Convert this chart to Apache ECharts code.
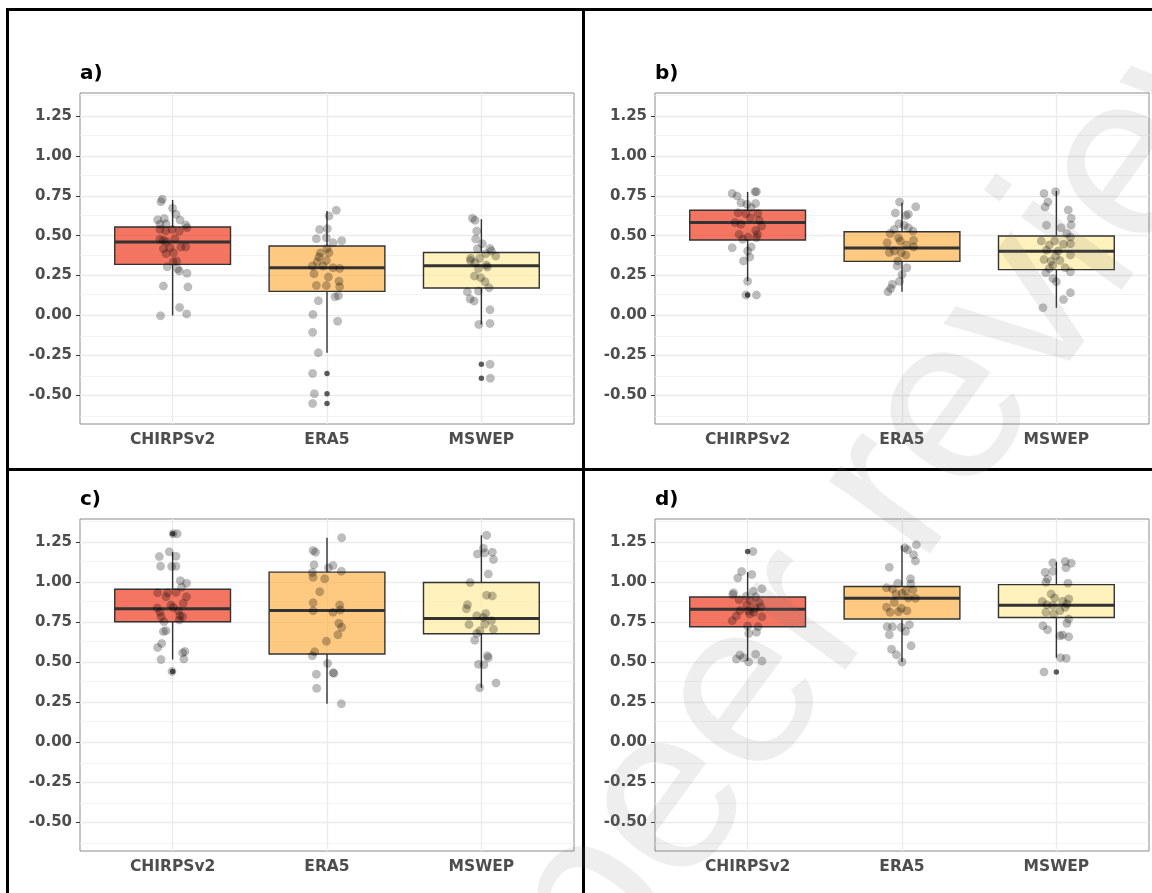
<!DOCTYPE html>
<html><head><meta charset="utf-8">
<script src="https://cdn.jsdelivr.net/npm/echarts@6/dist/echarts.min.js"></script>
<style>html,body{margin:0;padding:0;background:#fff}#chart{width:1152px;height:893px}</style>
</head><body><div id="chart"></div>
<script>
const categories = ['CHIRPSv2', 'ERA5', 'MSWEP'];
const panelLabels = ['a)', 'b)', 'c)', 'd)'];
const yTicks = [-0.5, -0.25, 0, 0.25, 0.5, 0.75, 1, 1.25];
const yMinorTicks = [-0.625, -0.375, -0.125, 0.125, 0.375, 0.625, 0.875, 1.125, 1.375];

// box stats per category: [lowerWhisker, q1, median, q3, upperWhisker]
const boxA = [[0.0, 0.320, 0.460, 0.554, 0.724], [-0.234, 0.151, 0.299, 0.435, 0.655], [-0.056, 0.172, 0.312, 0.395, 0.603]];
const boxB = [[0.215, 0.473, 0.582, 0.659, 0.774], [0.149, 0.339, 0.423, 0.525, 0.707], [0.048, 0.287, 0.402, 0.498, 0.780]];
const boxC = [[0.516, 0.752, 0.834, 0.955, 1.187], [0.240, 0.551, 0.823, 1.062, 1.277], [0.340, 0.677, 0.773, 0.997, 1.292]];
const boxD = [[0.507, 0.721, 0.830, 0.907, 1.062], [0.501, 0.769, 0.899, 0.972, 1.229], [0.528, 0.779, 0.855, 0.984, 1.124]];

// outliers: [categoryIndex, value]
const outA = [[1, -0.364], [1, -0.49], [1, -0.552], [2, -0.305], [2, -0.393]];
const outB = [[0, 0.128]];
const outC = [[0, 1.302], [0, 0.442]];
const outD = [[0, 1.191], [2, 0.438]];

// jittered observations: [jitter, value]
const ptsA_CHIRPS = [[-0.076,0.713],[-0.067,0.728],[0,0.672],[0.022,0.634],[0.048,0.598],[-0.097,0.600],[-0.054,0.607],[-0.082,0.571],[-0.043,0.575],[0.086,0.567],[0.093,0.55],[-0.082,0.54],[-0.045,0.529],[-0.004,0.538],[0.043,0.527],[-0.082,0.477],[-0.06,0.471],[-0.039,0.462],[0.015,0.481],[0.054,0.429],[0.086,0.429],[-0.06,0.418],[-0.017,0.425],[0.006,0.393],[-0.043,0.387],[0.026,0.341],[0.004,0.337],[-0.035,0.305],[0.032,0.293],[0.043,0.278],[0.093,0.264],[-0.06,0.184],[0.099,0.178],[0.045,0.05],[0.091,0.01],[-0.078,-0.002]];
const ptsA_ERA5 = [[0.06,0.659],[0.013,0.623],[-0.048,0.538],[0.002,0.544],[-0.069,0.481],[-0.004,0.487],[0.039,0.456],[0.095,0.469],[0,0.42],[-0.043,0.391],[0.013,0.393],[-0.052,0.366],[-0.004,0.345],[-0.063,0.337],[-0.095,0.31],[-0.026,0.31],[0.039,0.299],[0.082,0.295],[-0.084,0.262],[0.009,0.241],[0.078,0.215],[-0.069,0.188],[-0.004,0.188],[0.082,0.18],[0.052,0.117],[0.074,0.123],[-0.056,0.092],[-0.091,0.006],[0.069,-0.036],[-0.093,-0.105],[-0.056,-0.234],[-0.093,-0.364],[-0.082,-0.49],[-0.093,-0.552]];
const ptsA_MSWEP = [[-0.058,0.609],[-0.041,0.596],[-0.03,0.529],[-0.037,0.479],[0.006,0.45],[-0.026,0.418],[0.056,0.42],[0.065,0.404],[0.028,0.387],[0.093,0.372],[-0.069,0.358],[-0.011,0.358],[-0.071,0.345],[-0.041,0.331],[0.032,0.316],[0.039,0.303],[-0.019,0.295],[-0.045,0.247],[-0.004,0.236],[0.024,0.211],[0.05,0.174],[-0.091,0.149],[-0.019,0.153],[-0.073,0.103],[-0.047,0.09],[0.056,0.036],[-0.017,-0.056],[0.056,-0.05],[0.056,-0.305],[0.058,-0.393]];
const ptsB_CHIRPS = [[-0.1,0.764],[-0.068,0.749],[0.048,0.776],[0.057,0.776],[-0.043,0.707],[-0.005,0.697],[0.052,0.701],[0.023,0.676],[-0.062,0.644],[-0.011,0.638],[0.066,0.64],[0.018,0.613],[0.075,0.596],[-0.082,0.582],[-0.043,0.571],[0.091,0.561],[0.052,0.533],[-0.055,0.508],[0.064,0.508],[0.002,0.492],[-0.032,0.477],[0.057,0.487],[-0.1,0.425],[0.023,0.429],[0,0.404],[0.014,0.366],[-0.027,0.341],[0,0.215],[-0.011,0.128],[0.057,0.128]];
const ptsB_ERA5 = [[-0.016,0.711],[0.089,0.682],[-0.043,0.642],[0.025,0.626],[0.041,0.634],[-0.02,0.575],[0.014,0.565],[0.041,0.55],[0.071,0.529],[-0.05,0.538],[-0.077,0.513],[-0.023,0.487],[0.075,0.471],[-0.096,0.456],[-0.011,0.467],[0.03,0.441],[0.075,0.429],[-0.05,0.404],[-0.005,0.393],[-0.082,0.395],[0.025,0.379],[-0.027,0.341],[-0.032,0.31],[0.032,0.299],[0,0.257],[-0.016,0.215],[-0.062,0.195],[-0.073,0.169],[-0.091,0.149]];
const ptsB_MSWEP = [[-0.08,0.764],[-0.005,0.776],[-0.055,0.711],[-0.073,0.68],[0.077,0.661],[-0.064,0.565],[0.096,0.609],[0.096,0.567],[0.03,0.55],[0.068,0.513],[0.091,0.492],[-0.098,0.467],[-0.011,0.467],[-0.046,0.441],[0.046,0.446],[0.091,0.45],[-0.064,0.408],[0.011,0.404],[0.091,0.379],[-0.005,0.372],[-0.08,0.351],[-0.034,0.341],[0.023,0.345],[-0.023,0.314],[0.057,0.299],[0.091,0.274],[-0.046,0.295],[-0.068,0.268],[-0.023,0.232],[0,0.211],[0.091,0.142],[0.046,0.1],[-0.087,0.048]];
const ptsC_CHIRPS = [[0.003,1.302],[0.03,1.302],[-0.086,1.16],[-0.022,1.189],[0.022,1.162],[-0.078,1.099],[-0.006,1.097],[0.022,1.099],[0.05,1.009],[0.09,0.993],[0.058,0.968],[-0.097,0.934],[-0.032,0.934],[0.022,0.936],[0.09,0.909],[-0.043,0.909],[0.069,0.867],[-0.011,0.857],[-0.099,0.838],[0.004,0.842],[-0.082,0.811],[0.037,0.821],[-0.075,0.783],[0.047,0.79],[0.065,0.783],[-0.056,0.752],[0.043,0.763],[-0.043,0.696],[-0.06,0.691],[-0.071,0.616],[-0.097,0.591],[0.08,0.566],[0.065,0.558],[-0.075,0.516],[0.073,0.52],[-0.004,0.442]];
const ptsC_ERA5 = [[0.095,1.277],[-0.09,1.198],[-0.075,1.187],[-0.084,1.108],[0.009,1.089],[0.039,1.104],[0.093,1.068],[-0.095,1.06],[-0.09,1.03],[-0.015,1.02],[-0.047,0.94],[-0.09,0.871],[0.082,0.857],[-0.09,0.821],[0.086,0.825],[0.039,0.811],[0.077,0.742],[0.095,0.717],[0.071,0.671],[-0.004,0.631],[-0.08,0.564],[-0.095,0.539],[0.004,0.491],[0.039,0.434],[0.045,0.43],[-0.069,0.424],[-0.067,0.336],[0.093,0.24]];
const ptsC_MSWEP = [[0.034,1.292],[0.013,1.212],[-0.026,1.175],[0.022,1.181],[0.071,1.187],[0.078,1.141],[0.045,1.051],[-0.073,0.997],[0.034,0.917],[0.071,0.913],[-0.09,0.859],[-0.097,0.834],[0.028,0.804],[0.013,0.779],[-0.03,0.79],[0.065,0.758],[-0.08,0.735],[0.022,0.737],[0.078,0.706],[-0.009,0.696],[-0.03,0.679],[-0.043,0.637],[0.039,0.539],[0.045,0.528],[-0.019,0.486],[0.017,0.484],[0.095,0.369],[-0.011,0.34]];
const ptsD_CHIRPS = [[0.034,1.191],[-0.039,1.066],[-0.064,1.026],[0.027,1.047],[-0.091,0.934],[-0.096,0.922],[0.036,0.942],[0.093,0.959],[-0.009,0.911],[0.052,0.909],[-0.055,0.89],[0.018,0.884],[0.075,0.873],[-0.05,0.823],[-0.005,0.857],[0.048,0.836],[0.087,0.846],[0.041,0.811],[0.005,0.821],[-0.073,0.788],[-0.1,0.758],[0.093,0.783],[0.014,0.8],[0,0.725],[0.068,0.721],[0.007,0.679],[0.057,0.687],[-0.073,0.52],[-0.05,0.545],[-0.027,0.528],[0.052,0.549],[0.007,0.501],[0.093,0.507]];
const ptsD_ERA5 = [[0.093,1.233],[0.036,1.202],[0.018,1.214],[0.075,1.17],[0.087,1.131],[-0.082,1.093],[0.055,1.02],[-0.027,0.993],[0.057,0.988],[-0.1,0.964],[-0.062,0.958],[0.023,0.945],[0.071,0.951],[0,0.93],[-0.039,0.926],[0.087,0.899],[0.041,0.901],[-0.05,0.873],[-0.1,0.842],[-0.005,0.836],[0.032,0.821],[-0.077,0.811],[-0.023,0.815],[-0.096,0.721],[-0.062,0.721],[-0.005,0.717],[0.048,0.733],[0.023,0.692],[-0.082,0.671],[0.059,0.602],[-0.068,0.581],[-0.036,0.546],[0,0.501]];
const ptsD_MSWEP = [[0.057,1.129],[0.096,1.118],[-0.023,1.12],[-0.073,1.062],[-0.023,1.068],[0.062,1.089],[-0.057,1.02],[-0.068,0.999],[0.075,0.993],[-0.034,0.926],[-0.011,0.901],[0.08,0.895],[-0.091,0.878],[0.041,0.88],[-0.062,0.859],[-0.023,0.853],[0.057,0.842],[0.068,0.863],[-0.068,0.811],[0.023,0.821],[-0.018,0.8],[0.08,0.769],[0.068,0.742],[-0.087,0.727],[-0.057,0.702],[0.023,0.664],[0.041,0.669],[0.08,0.658],[0.027,0.528],[0.064,0.524],[-0.08,0.438]];

const boxFills = ['rgba(240,59,32,0.7)', 'rgba(254,178,76,0.7)', 'rgba(255,237,160,0.7)'];
const panelBoxes = [boxA, boxB, boxC, boxD];
const panelOutliers = [outA, outB, outC, outD];
const panelPoints = [
  [ptsA_CHIRPS, ptsA_ERA5, ptsA_MSWEP],
  [ptsB_CHIRPS, ptsB_ERA5, ptsB_MSWEP],
  [ptsC_CHIRPS, ptsC_ERA5, ptsC_MSWEP],
  [ptsD_CHIRPS, ptsD_ERA5, ptsD_MSWEP]
];
const gridRects = [
  {left: 80, top: 93, width: 494, height: 331},
  {left: 655, top: 93, width: 494, height: 331},
  {left: 80, top: 519, width: 494, height: 332},
  {left: 655, top: 519, width: 494, height: 332}
];

const FONT = 'DejaVu Sans';
const chart = echarts.init(document.getElementById('chart'), null, {renderer: 'canvas'});

function renderBox(params, api) {
  const x = api.value(0);
  const lo = api.value(1), q1 = api.value(2), med = api.value(3), q3 = api.value(4), hi = api.value(5);
  const hw = 0.375;
  const tl = api.coord([x - hw, q3]);
  const br = api.coord([x + hw, q1]);
  const ml = api.coord([x - hw, med]);
  const mr = api.coord([x + hw, med]);
  const pHi = api.coord([x, hi]), pQ3 = api.coord([x, q3]);
  const pQ1 = api.coord([x, q1]), pLo = api.coord([x, lo]);
  const ln = {stroke: '#333333', lineWidth: 1.4};
  return {
    type: 'group',
    children: [
      {type: 'line', shape: {x1: pHi[0], y1: pHi[1], x2: pQ3[0], y2: pQ3[1]}, style: ln},
      {type: 'line', shape: {x1: pQ1[0], y1: pQ1[1], x2: pLo[0], y2: pLo[1]}, style: ln},
      {type: 'rect', shape: {x: tl[0], y: tl[1], width: br[0] - tl[0], height: br[1] - tl[1]},
        style: {fill: boxFills[params.dataIndex], stroke: '#333333', lineWidth: 1.4}},
      {type: 'line', shape: {x1: ml[0], y1: ml[1], x2: mr[0], y2: mr[1]}, style: {stroke: '#333333', lineWidth: 3}}
    ]
  };
}

const grid = [], xAxis = [], yAxis = [], series = [];
const labelStyle = {color: '#4d4d4d', fontWeight: 'bold', fontSize: 15, fontFamily: FONT};

for (let i = 0; i < 4; i++) {
  grid.push(Object.assign({show: true, borderColor: '#8c8c8c', borderWidth: 1, backgroundColor: 'transparent', containLabel: false}, gridRects[i]));
  xAxis.push({
    gridIndex: i, type: 'value', min: 0.4, max: 3.6,
    axisLine: {show: false}, splitLine: {show: false},
    axisTick: {show: true, length: 4, lineStyle: {color: '#333333'}, customValues: [1, 2, 3]},
    axisLabel: Object.assign({customValues: [1, 2, 3], margin: 8, formatter: v => categories[Math.round(v) - 1]}, labelStyle, {fontSize: 15.5})
  });
  yAxis.push({
    gridIndex: i, type: 'value', min: -0.68, max: 1.394,
    axisLine: {show: false}, splitLine: {show: false},
    axisTick: {show: true, length: 4, lineStyle: {color: '#333333'}, customValues: yTicks},
    axisLabel: Object.assign({customValues: yTicks, margin: 8, formatter: v => Number(v).toFixed(2)}, labelStyle)
  });

  const gl = [];
  yMinorTicks.forEach(v => gl.push({yAxis: v, lineStyle: {color: '#f0f0f0', width: 0.8, type: 'solid'}}));
  yTicks.forEach(v => gl.push({yAxis: v, lineStyle: {color: '#ebebeb', width: 1.3, type: 'solid'}}));
  [1, 2, 3].forEach(v => gl.push({xAxis: v, lineStyle: {color: '#ebebeb', width: 1.3, type: 'solid'}}));
  series.push({
    type: 'line', xAxisIndex: i, yAxisIndex: i, data: [], silent: true, z: 1,
    markLine: {silent: true, symbol: 'none', z: 1, animation: false, label: {show: false}, emphasis: {disabled: true}, data: gl}
  });

  series.push({
    type: 'custom', xAxisIndex: i, yAxisIndex: i, z: 2, silent: true,
    renderItem: renderBox, encode: {x: 0, y: [1, 2, 3, 4, 5]},
    data: panelBoxes[i].map((b, k) => [k + 1].concat(b))
  });

  series.push({
    type: 'scatter', xAxisIndex: i, yAxisIndex: i, z: 3, silent: true,
    symbolSize: 5.5, itemStyle: {color: 'rgba(0,0,0,0.8)'},
    data: panelOutliers[i].map(o => [o[0] + 1, o[1]])
  });

  const pts = [];
  panelPoints[i].forEach((arr, k) => arr.forEach(p => pts.push([k + 1 + p[0], p[1]])));
  series.push({
    type: 'scatter', xAxisIndex: i, yAxisIndex: i, z: 4, silent: true,
    symbolSize: 8.5, itemStyle: {color: 'rgba(0,0,0,0.32)', borderColor: 'rgba(0,0,0,0.12)', borderWidth: 0.6},
    data: pts
  });
}

const graphic = [];
const titlePos = [[80, 74], [655, 74], [80, 500], [655, 500]];
panelLabels.forEach((t, i) => graphic.push({
  type: 'text', x: titlePos[i][0], y: titlePos[i][1], z: 50,
  style: {text: t, fill: '#000', font: 'bold 20px "DejaVu Sans"', textAlign: 'left', textVerticalAlign: 'middle'}
}));
// panel frame lines
[[6, 8, 1146, 3], [6, 8, 3, 885], [582, 8, 3, 885], [6, 468, 1146, 3]].forEach(r => graphic.push({
  type: 'rect', z: 60, shape: {x: r[0], y: r[1], width: r[2], height: r[3]}, style: {fill: '#000'}
}));
// watermark
graphic.push({
  type: 'text', x: 553, y: 962, rotation: 54 * Math.PI / 180, z: 100, silent: true,
  style: {text: 'peer reviewed', fill: 'rgba(120,120,120,0.13)', font: '235px "Liberation Sans"', textAlign: 'left', textVerticalAlign: 'middle'}
});

chart.setOption({
  animation: false,
  backgroundColor: '#ffffff',
  grid, xAxis, yAxis, series, graphic
});
</script>
</body></html>
